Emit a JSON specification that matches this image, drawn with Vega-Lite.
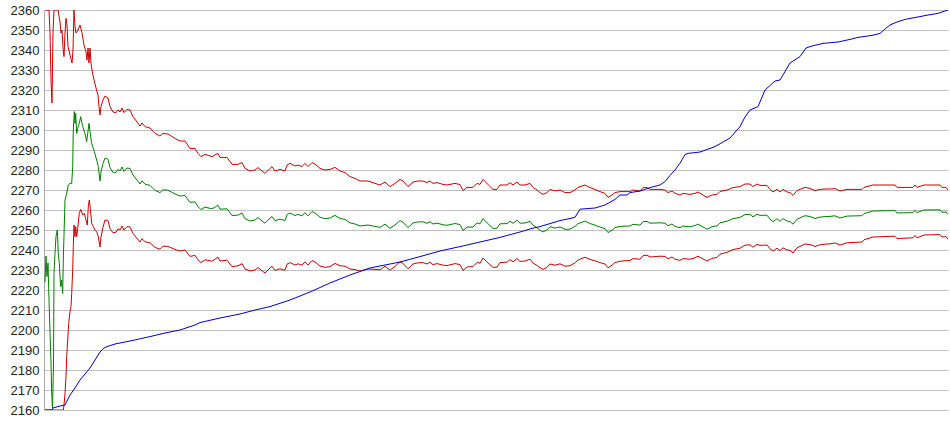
{
"$schema": "https://vega.github.io/schema/vega-lite/v6.json",
"width": 904, "height": 400,
"autosize": {"type": "none"},
"padding": {"left": 44, "top": 10, "right": 2, "bottom": 25},
"background": "#ffffff",
"config": {"view": {"stroke": null}},
"encoding": {
  "x": {"field": "x", "type": "quantitative", "scale": {"domain": [44, 948], "nice": false, "zero": false}, "axis": null},
  "y": {"field": "v", "type": "quantitative", "scale": {"domain": [2160, 2360], "nice": false, "zero": false},
    "axis": {"title": null, "format": "d", "values": [2160,2170,2180,2190,2200,2210,2220,2230,2240,2250,2260,2270,2280,2290,2300,2310,2320,2330,2340,2350,2360],
      "grid": true, "gridColor": "#c0c0c0", "gridWidth": 1, "gridOpacity": 1, "ticks": false, "domain": true, "domainColor": "#a8a8a8", "domainWidth": 1,
      "labelFont": "Liberation Sans", "labelFontSize": 13, "labelColor": "#222222", "labelPadding": 5, "labelFlush": false}}
},
"layer": [
{"mark": {"type": "line", "color": "#cc0000", "strokeWidth": 1, "clip": true},
 "data": {"values": [
{"x":45,"v":2360},{"x":49,"v":2360},{"x":50,"v":2348.7},{"x":51,"v":2325},{"x":52,"v":2313.5},{"x":53,"v":2348.7},{"x":54,"v":2360},{"x":58,"v":2360},{"x":60,"v":2354},{"x":61,"v":2348.5},{"x":62,"v":2350},{"x":63,"v":2341},{"x":64,"v":2336.7},{"x":65,"v":2348.5},{"x":66,"v":2355.8},{"x":67,"v":2352.5},{"x":68,"v":2341.7},{"x":70,"v":2337.5},{"x":72,"v":2333.5},{"x":73,"v":2340},{"x":74,"v":2360},{"x":75,"v":2351.7},{"x":76,"v":2348.5},{"x":78,"v":2350},{"x":80,"v":2352.5},{"x":82,"v":2348.5},{"x":84,"v":2342.5},{"x":86,"v":2339},{"x":87,"v":2335},{"x":88,"v":2341},{"x":89,"v":2333.5},{"x":90,"v":2341},{"x":91,"v":2333.5},{"x":92,"v":2330},{"x":94,"v":2325},{"x":96,"v":2321},{"x":98,"v":2317.5},{"x":99,"v":2311.7},{"x":100,"v":2307.5},
{"x":101,"v":2311.7},{"x":103,"v":2315},{"x":105,"v":2317},{"x":108,"v":2316},{"x":110,"v":2311.7},{"x":113,"v":2309},{"x":116,"v":2308.7},{"x":118,"v":2310},{"x":120,"v":2309},{"x":122,"v":2311},{"x":124,"v":2308.7},{"x":127,"v":2310.3},{"x":130,"v":2310},{"x":133,"v":2306.7},{"x":137,"v":2304},{"x":140,"v":2302},{"x":142,"v":2303.5},{"x":145,"v":2301.7},{"x":150,"v":2301},{"x":155,"v":2298.3},{"x":160,"v":2297},{"x":163,"v":2298.3},{"x":168,"v":2298},{"x":172,"v":2296.7},{"x":176,"v":2295.5},{"x":180,"v":2294.5},{"x":185,"v":2294.5},{"x":190,"v":2290.8},{"x":195,"v":2290.8},{"x":198,"v":2288.3},{"x":201,"v":2286.7},{"x":205,"v":2287.8},{"x":212,"v":2286.7},{"x":218,"v":2288.3},{"x":220,"v":2286.3},{"x":227,"v":2286.3},{"x":232,"v":2282.8},{"x":238,"v":2282.8},{"x":242,"v":2283.7},{"x":245,"v":2280.8},{"x":250,"v":2279.5},{"x":255,"v":2280},{"x":258,"v":2281.2},{"x":262,"v":2279.5},{"x":265,"v":2278.3},{"x":270,"v":2280.8},{"x":272,"v":2281.7},{"x":275,"v":2279.5},{"x":280,"v":2280.3},{"x":285,"v":2279.5},{"x":287,"v":2282.5},{"x":290,"v":2283.3},{"x":295,"v":2282},{"x":298,"v":2282.5},{"x":302,"v":2281.7},{"x":305,"v":2283.3},{"x":308,"v":2281.7},{"x":312,"v":2283.7},{"x":315,"v":2283},{"x":320,"v":2280.8},{"x":325,"v":2280},{"x":330,"v":2280.3},{"x":335,"v":2281.3},{"x":340,"v":2279.5},{"x":345,"v":2278.7},{"x":350,"v":2276.7},{"x":355,"v":2275.8},{"x":360,"v":2274.5},{"x":368,"v":2274.5},{"x":375,"v":2273.3},{"x":380,"v":2272.5},{"x":385,"v":2274},{"x":390,"v":2271.7},{"x":395,"v":2273.3},{"x":400,"v":2275.3},
{"x":403,"v":2274.5},{"x":408,"v":2271.7},{"x":413,"v":2274},{"x":418,"v":2274.5},{"x":423,"v":2274.5},{"x":427,"v":2273.7},{"x":430,"v":2274.5},{"x":433,"v":2273.3},{"x":437,"v":2273.7},{"x":443,"v":2272.8},{"x":447,"v":2272.5},{"x":455,"v":2273.3},{"x":460,"v":2272.7},{"x":463,"v":2269.7},{"x":467,"v":2271.3},{"x":473,"v":2271.3},{"x":477,"v":2273.3},{"x":480,"v":2272.8},{"x":483,"v":2275.3},{"x":490,"v":2271.7},{"x":493,"v":2270.3},{"x":497,"v":2270.3},{"x":500,"v":2272.5},{"x":507,"v":2272.5},{"x":510,"v":2273.7},{"x":513,"v":2272.5},{"x":517,"v":2274},{"x":520,"v":2272.5},{"x":525,"v":2272.5},{"x":530,"v":2273.3},{"x":533,"v":2271.3},{"x":537,"v":2270},{"x":540,"v":2268.7},{"x":543,"v":2267.8},{"x":547,"v":2268.7},{"x":550,"v":2270.3},{"x":555,"v":2269.5},{"x":560,"v":2270},{"x":565,"v":2268.7},{"x":570,"v":2268.7},{"x":575,"v":2270},{"x":578,"v":2271.3},{"x":585,"v":2272.5},{"x":590,"v":2271.2},{"x":595,"v":2270.3},{"x":600,"v":2269.2},{"x":605,"v":2268.3},{"x":608,"v":2266.3},{"x":612,"v":2267.5},{"x":615,"v":2268.7},{"x":620,"v":2269.2},{"x":630,"v":2269.2},{"x":633,"v":2270},{"x":640,"v":2269.5},{"x":643,"v":2271.2},{"x":647,"v":2271.2},{"x":650,"v":2270.3},{"x":660,"v":2270.3},{"x":665,"v":2270},{"x":668,"v":2268.7},{"x":672,"v":2269.5},{"x":675,"v":2268.3},{"x":680,"v":2267.5},{"x":683,"v":2268.3},{"x":690,"v":2267.8},{"x":695,"v":2268.3},{"x":698,"v":2269},{"x":702,"v":2267.8},{"x":707,"v":2266.3},{"x":712,"v":2267.5},{"x":717,"v":2267.8},{"x":720,"v":2269.3},{"x":727,"v":2270},{"x":733,"v":2271.2},{"x":740,"v":2271.7},{"x":745,"v":2273},{"x":750,"v":2273},{"x":753,"v":2271.7},{"x":757,"v":2273},{"x":760,"v":2272.3},{"x":767,"v":2272.3},{"x":770,"v":2270.3},{"x":773,"v":2269},{"x":777,"v":2270.3},{"x":780,"v":2269},{"x":783,"v":2270.3},{"x":787,"v":2269},{"x":790,"v":2268.7},{"x":793,"v":2267.3},{"x":797,"v":2269.7},{"x":800,"v":2270.3},{"x":805,"v":2271.3},{"x":810,"v":2270.8},{"x":815,"v":2269.7},{"x":820,"v":2270.3},{"x":825,"v":2270.5},{"x":830,"v":2270.5},{"x":835,"v":2270.7},{"x":840,"v":2269.5},{"x":847,"v":2270.3},{"x":862,"v":2270.3},{"x":864,"v":2271.3},{"x":873,"v":2272.5},{"x":895,"v":2272.5},{"x":897,"v":2271.3},{"x":913,"v":2271.3},{"x":915,"v":2272.5},{"x":917,"v":2271.3},{"x":924,"v":2272.5},{"x":940,"v":2272.5},{"x":942,"v":2271.3},{"x":946,"v":2271.3},{"x":948,"v":2270}
]}},
{"mark": {"type": "line", "color": "#008000", "strokeWidth": 1, "clip": true},
 "data": {"values": [
{"x":45,"v":2224},{"x":46,"v":2237},{"x":47,"v":2226.7},{"x":48,"v":2233.5},{"x":49,"v":2215},{"x":50,"v":2199},{"x":51,"v":2183.5},{"x":51.7,"v":2168.5},{"x":52.5,"v":2161},{"x":53.5,"v":2183.5},{"x":54,"v":2228.3},{"x":55,"v":2238.3},{"x":56,"v":2246.7},{"x":57.3,"v":2250},{"x":58.3,"v":2238.3},{"x":59.3,"v":2233.3},{"x":60,"v":2226.7},{"x":60.7,"v":2221.7},{"x":61.7,"v":2225},{"x":62.7,"v":2218.3},{"x":63.3,"v":2235},{"x":65,"v":2265},{"x":66.7,"v":2268.3},{"x":68.3,"v":2272.5},{"x":70,"v":2273.3},{"x":71.7,"v":2273.3},{"x":72.7,"v":2281.7},{"x":73.3,"v":2300},{"x":74.3,"v":2309.2},{"x":75,"v":2303.3},{"x":75.7,"v":2308.3},{"x":76.7,"v":2298.3},{"x":77.7,"v":2300.8},{"x":79.3,"v":2303.3},{"x":80.7,"v":2306.7},{"x":82.7,"v":2301.7},{"x":85,"v":2298.3},{"x":86.7,"v":2294.2},{"x":87.7,"v":2298.3},{"x":89,"v":2303.3},{"x":90,"v":2299.2},{"x":91.7,"v":2293.3},{"x":94.3,"v":2289.2},{"x":96.7,"v":2285},{"x":98.3,"v":2281.7},{"x":100,"v":2274.5},
{"x":101,"v":2279.1},{"x":103,"v":2283.2},{"x":105,"v":2286},{"x":108,"v":2285.3},{"x":110,"v":2281.2},{"x":113,"v":2278.8},{"x":116,"v":2278.8},{"x":118,"v":2280.3},{"x":120,"v":2279.5},{"x":122,"v":2281.5},{"x":124,"v":2279.3},{"x":127,"v":2281},{"x":130,"v":2280.75},{"x":133,"v":2277.5},{"x":137,"v":2274.9},{"x":140,"v":2273},{"x":142,"v":2274.6},{"x":145,"v":2272.9},{"x":150,"v":2272.3},{"x":155,"v":2269.8},{"x":160,"v":2268.7},{"x":163,"v":2270.1},{"x":168,"v":2269.9},{"x":172,"v":2268.8},{"x":176,"v":2267.8},{"x":180,"v":2267},{"x":185,"v":2267.25},{"x":190,"v":2263.8},{"x":195,"v":2264.05},{"x":198,"v":2261.7},{"x":201,"v":2260.2},{"x":205,"v":2261.45},{"x":212,"v":2260.55},{"x":218,"v":2262.35},{"x":220,"v":2260.4},{"x":227,"v":2260.6},{"x":232,"v":2257.25},{"x":238,"v":2257.45},{"x":242,"v":2258.45},{"x":245,"v":2255.65},{"x":250,"v":2254.5},{"x":255,"v":2255},{"x":258,"v":2256.2},{"x":262,"v":2254.55},{"x":265,"v":2253.4},{"x":270,"v":2255.9},{"x":272,"v":2256.8},{"x":275,"v":2254.65},{"x":280,"v":2255.45},{"x":285,"v":2254.7},{"x":287,"v":2257.7},{"x":290,"v":2258.5},{"x":295,"v":2257.25},{"x":298,"v":2257.8},{"x":302,"v":2257.05},{"x":305,"v":2258.7},{"x":308,"v":2257.1},{"x":312,"v":2259.2},{"x":315,"v":2258.5},{"x":320,"v":2256.4},{"x":325,"v":2255.65},{"x":330,"v":2256},{"x":335,"v":2257.3},{"x":340,"v":2255.8},{"x":345,"v":2255.3},{"x":350,"v":2253.6},{"x":355,"v":2253},{"x":360,"v":2252},{"x":368,"v":2252.5},{"x":375,"v":2251.8},{"x":380,"v":2251.3},{"x":385,"v":2252.95},{"x":390,"v":2250.8},{"x":395,"v":2252.55},{"x":400,"v":2254.7},
{"x":403,"v":2253.9},{"x":408,"v":2251.15},{"x":413,"v":2253.5},{"x":418,"v":2254.05},{"x":423,"v":2254.1},{"x":427,"v":2253.35},{"x":430,"v":2254.2},{"x":433,"v":2253},{"x":437,"v":2253.45},{"x":443,"v":2252.6},{"x":447,"v":2252.35},{"x":455,"v":2253.25},{"x":460,"v":2252.7},{"x":463,"v":2249.75},{"x":467,"v":2251.4},{"x":473,"v":2251.5},{"x":477,"v":2253.55},{"x":480,"v":2253.1},{"x":483,"v":2255.65},{"x":490,"v":2252.15},{"x":493,"v":2250.8},{"x":497,"v":2250.85},{"x":500,"v":2253.1},{"x":507,"v":2253.2},{"x":510,"v":2254.45},{"x":513,"v":2253.3},{"x":517,"v":2254.85},{"x":520,"v":2253.4},{"x":525,"v":2253.5},{"x":530,"v":2254.35},{"x":533,"v":2252.4},{"x":537,"v":2251.15},{"x":540,"v":2249.9},{"x":543,"v":2249.05},{"x":547,"v":2250},{"x":550,"v":2251.65},{"x":555,"v":2250.95},{"x":560,"v":2251.55},{"x":565,"v":2250.3},{"x":570,"v":2250.4},{"x":575,"v":2251.8},{"x":578,"v":2253.15},{"x":585,"v":2254.45},{"x":590,"v":2253.25},{"x":595,"v":2252.45},{"x":600,"v":2251.45},{"x":605,"v":2250.65},{"x":608,"v":2248.7},{"x":612,"v":2249.95},{"x":615,"v":2251.2},{"x":620,"v":2251.8},{"x":630,"v":2252},{"x":633,"v":2252.85},{"x":640,"v":2252.45},{"x":643,"v":2254.2},{"x":647,"v":2254.3},{"x":650,"v":2253.4},{"x":660,"v":2253.6},{"x":665,"v":2253.4},{"x":668,"v":2252.15},{"x":672,"v":2253},{"x":675,"v":2251.85},{"x":680,"v":2251.15},{"x":683,"v":2252},{"x":690,"v":2251.6},{"x":695,"v":2252.2},{"x":698,"v":2252.95},{"x":702,"v":2251.8},{"x":707,"v":2250.4},{"x":712,"v":2251.65},{"x":717,"v":2252.05},{"x":720,"v":2253.6},{"x":727,"v":2254.4},{"x":733,"v":2255.7},{"x":740,"v":2256.3},{"x":745,"v":2257.7},{"x":750,"v":2257.8},{"x":753,"v":2256.55},{"x":757,"v":2257.9},{"x":760,"v":2257.3},{"x":767,"v":2257.4},{"x":770,"v":2255.45},{"x":773,"v":2254.2},{"x":777,"v":2255.6},{"x":780,"v":2254.35},{"x":783,"v":2255.7},{"x":787,"v":2254.5},{"x":790,"v":2254.25},{"x":793,"v":2252.9},{"x":797,"v":2255.4},{"x":800,"v":2256.05},{"x":805,"v":2257.15},{"x":810,"v":2256.75},{"x":815,"v":2255.75},{"x":820,"v":2256.45},{"x":825,"v":2256.7},{"x":830,"v":2256.8},{"x":835,"v":2257.1},{"x":840,"v":2256},{"x":847,"v":2256.95},{"x":862,"v":2257.15},{"x":864,"v":2258.2},{"x":873,"v":2259.5},{"x":895,"v":2259.7},{"x":897,"v":2258.5},{"x":913,"v":2258.7},{"x":915,"v":2259.9},{"x":917,"v":2258.7},{"x":924,"v":2260},{"x":940,"v":2260.1},{"x":942,"v":2258.9},{"x":946,"v":2259},{"x":948,"v":2257.7}
]}},
{"mark": {"type": "line", "color": "#cc0000", "strokeWidth": 1, "clip": true},
 "data": {"values": [
{"x":45,"v":2160},{"x":63.3,"v":2160},{"x":64,"v":2162.5},{"x":65,"v":2168.3},{"x":66,"v":2176.7},{"x":66.7,"v":2186.7},{"x":67.7,"v":2195},{"x":68.7,"v":2203.3},{"x":70,"v":2209.2},{"x":71,"v":2211.7},{"x":71.7,"v":2218.3},{"x":72.7,"v":2230},{"x":73.3,"v":2241.7},{"x":74,"v":2252.5},{"x":75,"v":2246.7},{"x":75.7,"v":2251.7},{"x":76.7,"v":2246.7},{"x":77.7,"v":2250.8},{"x":79.3,"v":2258.3},{"x":80.7,"v":2260.3},{"x":82.7,"v":2257.5},{"x":84.3,"v":2258.3},{"x":86,"v":2255},{"x":87.3,"v":2252.5},{"x":88.3,"v":2261.7},{"x":89.3,"v":2265},{"x":90.3,"v":2260.8},{"x":91.7,"v":2253.3},{"x":93.3,"v":2251.7},{"x":95,"v":2250},{"x":96.7,"v":2249.2},{"x":98.3,"v":2246.7},{"x":100,"v":2241.5},
{"x":101,"v":2246.5},{"x":103,"v":2251.4},{"x":105,"v":2255},{"x":108,"v":2254.6},{"x":110,"v":2250.7},{"x":113,"v":2248.6},{"x":116,"v":2248.9},{"x":118,"v":2250.6},{"x":120,"v":2250},{"x":122,"v":2252},{"x":124,"v":2249.9},{"x":127,"v":2251.7},{"x":130,"v":2251.5},{"x":133,"v":2248.3},{"x":137,"v":2245.8},{"x":140,"v":2244},{"x":142,"v":2245.7},{"x":145,"v":2244.1},{"x":150,"v":2243.6},{"x":155,"v":2241.3},{"x":160,"v":2240.4},{"x":163,"v":2241.9},{"x":168,"v":2241.8},{"x":172,"v":2240.9},{"x":176,"v":2240.1},{"x":180,"v":2239.5},{"x":185,"v":2240},{"x":190,"v":2236.8},{"x":195,"v":2237.3},{"x":198,"v":2235.1},{"x":201,"v":2233.7},{"x":205,"v":2235.1},{"x":212,"v":2234.4},{"x":218,"v":2236.4},{"x":220,"v":2234.5},{"x":227,"v":2234.9},{"x":232,"v":2231.7},{"x":238,"v":2232.1},{"x":242,"v":2233.2},{"x":245,"v":2230.5},{"x":250,"v":2229.5},{"x":255,"v":2230},{"x":258,"v":2231.2},{"x":262,"v":2229.6},{"x":265,"v":2228.5},{"x":270,"v":2231},{"x":272,"v":2231.9},{"x":275,"v":2229.8},{"x":280,"v":2230.6},{"x":285,"v":2229.9},{"x":287,"v":2232.9},{"x":290,"v":2233.7},{"x":295,"v":2232.5},{"x":298,"v":2233.1},{"x":302,"v":2232.4},{"x":305,"v":2234.1},{"x":308,"v":2232.5},{"x":312,"v":2234.7},{"x":315,"v":2234},{"x":320,"v":2232},{"x":325,"v":2231.3},{"x":330,"v":2231.7},{"x":335,"v":2233.3},{"x":340,"v":2232.1},{"x":345,"v":2231.9},{"x":350,"v":2230.5},{"x":355,"v":2230.2},{"x":360,"v":2229.5},{"x":368,"v":2230.5},{"x":375,"v":2230.3},{"x":380,"v":2230.1},{"x":385,"v":2231.9},{"x":390,"v":2229.9},{"x":395,"v":2231.8},{"x":400,"v":2234.1},
{"x":403,"v":2233.3},{"x":408,"v":2230.6},{"x":413,"v":2233},{"x":418,"v":2233.6},{"x":423,"v":2233.7},{"x":427,"v":2233},{"x":430,"v":2233.9},{"x":433,"v":2232.7},{"x":437,"v":2233.2},{"x":443,"v":2232.4},{"x":447,"v":2232.2},{"x":455,"v":2233.2},{"x":460,"v":2232.7},{"x":463,"v":2229.8},{"x":467,"v":2231.5},{"x":473,"v":2231.7},{"x":477,"v":2233.8},{"x":480,"v":2233.4},{"x":483,"v":2236},{"x":490,"v":2232.6},{"x":493,"v":2231.3},{"x":497,"v":2231.4},{"x":500,"v":2233.7},{"x":507,"v":2233.9},{"x":510,"v":2235.2},{"x":513,"v":2234.1},{"x":517,"v":2235.7},{"x":520,"v":2234.3},{"x":525,"v":2234.5},{"x":530,"v":2235.4},{"x":533,"v":2233.5},{"x":537,"v":2232.3},{"x":540,"v":2231.1},{"x":543,"v":2230.3},{"x":547,"v":2231.3},{"x":550,"v":2233},{"x":555,"v":2232.4},{"x":560,"v":2233.1},{"x":565,"v":2231.9},{"x":570,"v":2232.1},{"x":575,"v":2233.6},{"x":578,"v":2235},{"x":585,"v":2236.4},{"x":590,"v":2235.3},{"x":595,"v":2234.6},{"x":600,"v":2233.7},{"x":605,"v":2233},{"x":608,"v":2231.1},{"x":612,"v":2232.4},{"x":615,"v":2233.7},{"x":620,"v":2234.4},{"x":630,"v":2234.8},{"x":633,"v":2235.7},{"x":640,"v":2235.4},{"x":643,"v":2237.2},{"x":647,"v":2237.4},{"x":650,"v":2236.5},{"x":660,"v":2236.9},{"x":665,"v":2236.8},{"x":668,"v":2235.6},{"x":672,"v":2236.5},{"x":675,"v":2235.4},{"x":680,"v":2234.8},{"x":683,"v":2235.7},{"x":690,"v":2235.4},{"x":695,"v":2236.1},{"x":698,"v":2236.9},{"x":702,"v":2235.8},{"x":707,"v":2234.5},{"x":712,"v":2235.8},{"x":717,"v":2236.3},{"x":720,"v":2237.9},{"x":727,"v":2238.8},{"x":733,"v":2240.2},{"x":740,"v":2240.9},{"x":745,"v":2242.4},{"x":750,"v":2242.6},{"x":753,"v":2241.4},{"x":757,"v":2242.8},{"x":760,"v":2242.3},{"x":767,"v":2242.5},{"x":770,"v":2240.6},{"x":773,"v":2239.4},{"x":777,"v":2240.9},{"x":780,"v":2239.7},{"x":783,"v":2241.1},{"x":787,"v":2240},{"x":790,"v":2239.8},{"x":793,"v":2238.5},{"x":797,"v":2241.1},{"x":800,"v":2241.8},{"x":805,"v":2243},{"x":810,"v":2242.7},{"x":815,"v":2241.8},{"x":820,"v":2242.6},{"x":825,"v":2242.9},{"x":830,"v":2243.1},{"x":835,"v":2243.5},{"x":840,"v":2242.5},{"x":847,"v":2243.6},{"x":862,"v":2244},{"x":864,"v":2245.1},{"x":873,"v":2246.5},{"x":895,"v":2246.9},{"x":897,"v":2245.7},{"x":913,"v":2246.1},{"x":915,"v":2247.3},{"x":917,"v":2246.1},{"x":924,"v":2247.5},{"x":940,"v":2247.7},{"x":942,"v":2246.5},{"x":946,"v":2246.7},{"x":948,"v":2245.4}
]}},
{"mark": {"type": "line", "color": "#0000cc", "strokeWidth": 1, "clip": true},
 "data": {"values": [
{"x":45,"v":2160},{"x":52,"v":2160},{"x":53,"v":2161},{"x":60,"v":2162},{"x":65,"v":2162.5},{"x":70,"v":2167.5},{"x":75,"v":2171},{"x":80,"v":2175},{"x":85,"v":2178},{"x":90,"v":2181},{"x":95,"v":2185},{"x":100,"v":2189},{"x":104,"v":2191},{"x":107,"v":2191.7},{"x":115,"v":2193},{"x":130,"v":2194.5},{"x":150,"v":2196.7},{"x":165,"v":2198.5},{"x":180,"v":2200},{"x":195,"v":2202.5},{"x":200,"v":2203.7},{"x":220,"v":2206},{"x":240,"v":2208},{"x":255,"v":2210},{"x":270,"v":2211.7},{"x":290,"v":2215},{"x":310,"v":2219},{"x":330,"v":2223.5},{"x":350,"v":2227.5},{"x":370,"v":2231},{"x":390,"v":2233},{"x":400,"v":2234},{"x":420,"v":2236.7},{"x":440,"v":2239.5},{"x":460,"v":2241.7},{"x":480,"v":2244},{"x":500,"v":2246.3},{"x":520,"v":2249},{"x":532,"v":2250.8},{"x":540,"v":2251.7},{"x":560,"v":2254.7},{"x":575,"v":2256.3},{"x":580,"v":2260.4},{"x":595,"v":2261},{"x":605,"v":2262.5},{"x":615,"v":2265.3},{"x":620,"v":2267.5},{"x":627,"v":2267.5},{"x":630,"v":2268.7},{"x":640,"v":2269.5},{"x":650,"v":2271.2},{"x":660,"v":2272.5},{"x":665,"v":2274.2},{"x":670,"v":2277.3},{"x":675,"v":2280},{"x":680,"v":2283.4},{"x":685,"v":2287.7},{"x":688,"v":2288.3},{"x":700,"v":2289},{"x":715,"v":2291.7},{"x":730,"v":2296},{"x":740,"v":2301.7},{"x":745,"v":2306.5},{"x":750,"v":2310},{"x":758,"v":2311.7},{"x":765,"v":2320},{"x":775,"v":2324.5},{"x":780,"v":2325},{"x":790,"v":2333.5},{"x":800,"v":2336.7},{"x":806,"v":2341},{"x":812,"v":2342},{"x":823,"v":2343.3},{"x":838,"v":2344},{"x":850,"v":2345.3},{"x":858,"v":2346.3},{"x":872,"v":2347.3},{"x":880,"v":2348.3},{"x":885,"v":2350.5},{"x":890,"v":2352.5},{"x":897,"v":2354},{"x":905,"v":2355.3},{"x":920,"v":2356.7},{"x":928,"v":2357.5},{"x":938,"v":2358.3},{"x":946,"v":2359.7},{"x":948,"v":2360}
]}}
]
}
